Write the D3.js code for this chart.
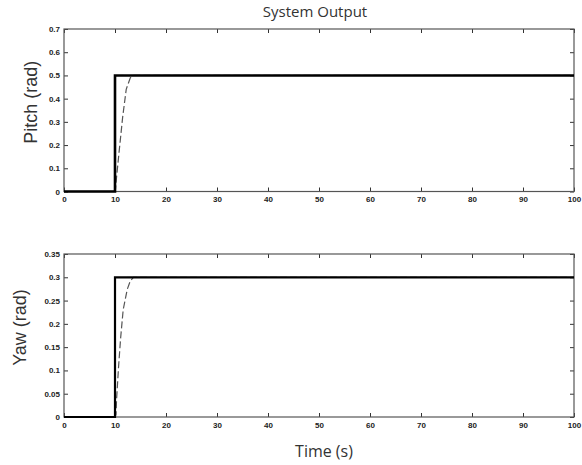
<!DOCTYPE html>
<html>
<head>
<meta charset="utf-8">
<script src="https://cdn.jsdelivr.net/npm/d3@7"></script>
<style>
  body { margin: 0; background: #fff; }
  svg { display: block; }
  .tick text { font-family: "Liberation Sans", Arial, sans-serif; font-size: 8px; font-weight: bold; fill: #222; }
</style>
</head>
<body>
<svg id="chart" width="582" height="465"></svg>
<script>
// reference step (solid) and system response (dashed)
const pitchRef = [[0, 0], [10, 0], [10, 0.5], [100, 0.5]];
const pitchOut = [[0, 0], [10, 0], [10.1, 0.01], [10.3, 0.06], [10.8, 0.17], [11.5, 0.32],
  [12.2, 0.44], [13, 0.49], [13.6, 0.5], [100, 0.5]];
const yawRef = [[0, 0], [10, 0], [10, 0.3], [100, 0.3]];
const yawOut = [[0, 0], [10, 0], [10.2, 0.005], [10.3, 0.036], [10.7, 0.108], [11.1, 0.169],
  [11.6, 0.23], [12.4, 0.274], [13, 0.292], [13.6, 0.3], [100, 0.3]];

const xTicks = [0, 10, 20, 30, 40, 50, 60, 70, 80, 90, 100];
const pitchTicks = [0, 0.1, 0.2, 0.3, 0.4, 0.5, 0.6, 0.7];
const yawTicks = [0, 0.05, 0.1, 0.15, 0.2, 0.25, 0.3, 0.35];

const svg = d3.select("#chart");
const left = 64, right = 574;

function panel(top, bottom, yMax, yTicks, ref, out, label, labelX, refWidth) {
  const x = d3.scaleLinear().domain([0, 100]).range([left, right]);
  const y = d3.scaleLinear().domain([0, yMax]).range([bottom, top]);
  const g = svg.append("g");

  const fmt = d => d === 0 ? "0" : String(+d.toFixed(2));

  // bottom / left axes with labels, inward ticks
  g.append("g").attr("transform", `translate(0,${bottom})`)
    .call(d3.axisBottom(x).tickValues(xTicks).tickSizeInner(-4).tickSizeOuter(0).tickPadding(5).tickFormat(fmt));
  g.append("g").attr("transform", `translate(${left},0)`)
    .call(d3.axisLeft(y).tickValues(yTicks).tickSizeInner(-4).tickSizeOuter(0).tickPadding(4).tickFormat(fmt));
  // mirrored top / right ticks
  g.append("g").attr("transform", `translate(0,${top})`)
    .call(d3.axisTop(x).tickValues(xTicks).tickSizeInner(-4).tickSizeOuter(0).tickFormat(""));
  g.append("g").attr("transform", `translate(${right},0)`)
    .call(d3.axisRight(y).tickValues(yTicks).tickSizeInner(-4).tickSizeOuter(0).tickFormat(""));
  g.selectAll(".domain").remove();
  g.selectAll(".tick line").attr("stroke", "#333");

  g.append("rect")
    .attr("x", left).attr("y", top)
    .attr("width", right - left).attr("height", bottom - top)
    .attr("fill", "none").attr("stroke", "#555").attr("stroke-width", 1.2);

  const line = d3.line().x(d => x(d[0])).y(d => y(d[1]));
  g.append("path").datum(out).attr("d", line)
    .attr("fill", "none").attr("stroke", "#555").attr("stroke-width", 1.2)
    .attr("stroke-dasharray", "7,3");
  g.append("path").datum(ref).attr("d", line)
    .attr("fill", "none").attr("stroke", "#000").attr("stroke-width", refWidth);

  g.append("text")
    .attr("transform", `translate(${labelX},${(top + bottom) / 2 - 8}) rotate(-90)`)
    .attr("text-anchor", "middle")
    .attr("font-family", "Liberation Sans, Arial, sans-serif")
    .attr("font-size", 18).attr("fill", "#333")
    .text(label);
}

panel(29, 191.5, 0.7, pitchTicks, pitchRef, pitchOut, "Pitch (rad)", 37, 2.6);
panel(254, 417, 0.35, yawTicks, yawRef, yawOut, "Yaw (rad)", 26, 2.2);

svg.append("text")
  .attr("x", 315).attr("y", 17)
  .attr("text-anchor", "middle")
  .attr("font-family", "Open Sans, sans-serif")
  .attr("font-size", 15).attr("fill", "#333")
  .text("System Output");

svg.append("text")
  .attr("x", 324).attr("y", 457)
  .attr("text-anchor", "middle")
  .attr("font-family", "Open Sans, sans-serif")
  .attr("font-size", 16).attr("fill", "#333")
  .text("Time (s)");
</script>
</body>
</html>
